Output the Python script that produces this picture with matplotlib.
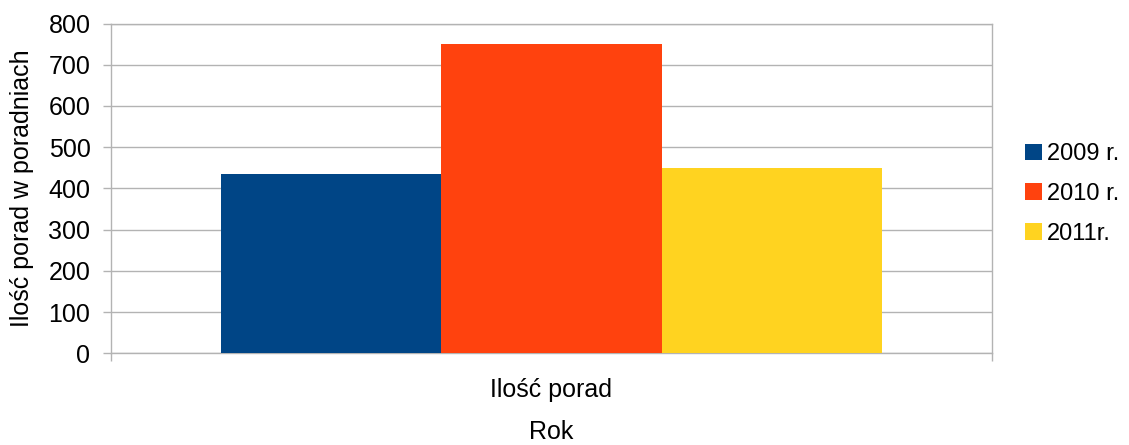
import matplotlib
matplotlib.use("Agg")
import matplotlib.pyplot as plt
from matplotlib.patches import Patch

plt.rcParams['font.family'] = ['Liberation Sans', 'DejaVu Sans']

categories = ["Ilość porad"]
series_names = ["2009 r.", "2010 r.", "2011r."]
series_values = [435, 750, 450]
colors = ["#004586", "#ff420e", "#ffd320"]
y_ticks = [0, 100, 200, 300, 400, 500, 600, 700, 800]

FS = 18

fig = plt.figure(figsize=(11.29, 4.45), dpi=100)
ax = fig.add_axes([111/1129, 1-353.3/445, (992-111)/1129, (353.3-23.5)/445])

grid_c = "#b3b3b3"
w = 0.25
offsets = [-0.25, 0.0, 0.25]
for name, v, c, off in zip(series_names, series_values, colors, offsets):
    ax.bar(0 + off, v, width=w, color=c, label=name, zorder=3)

ax.set_xlim(-0.5, 0.5)
ax.set_ylim(0, 800)
ax.set_yticks(y_ticks)
ax.set_yticklabels([str(t) for t in y_ticks], fontsize=FS)
ax.yaxis.grid(True, color=grid_c, linewidth=1.0, zorder=0)
ax.set_axisbelow(True)

ax.set_xticks([-0.5, 0.5])
ax.set_xticklabels([])
ax.tick_params(axis='x', length=5.8, color=grid_c, width=1.0)
ax.tick_params(axis='y', length=5.8, color=grid_c, width=1.0, pad=9)
ax.text(0, -0.11, categories[0], transform=ax.get_xaxis_transform(), ha='center', va='center', fontsize=FS)

for s in ax.spines.values():
    s.set_color(grid_c)
    s.set_linewidth(1.0)

ax.set_ylabel("Ilość porad w poradniach", fontsize=FS)
ax.yaxis.set_label_coords(-(111-34)/881, 0.5)
fig.text((111+992)/2/1129, 1-432/445, "Rok", ha='center', va='center', fontsize=FS)

handles = [Patch(facecolor=c, edgecolor='none') for c in colors]
leg = fig.legend(handles, series_names, loc='center left', bbox_to_anchor=(1025/1129, 1-194/445),
                 frameon=False, fontsize=17, handlelength=0.72, handleheight=0.72,
                 handletextpad=0.2, labelspacing=0.75, borderaxespad=0, borderpad=0)

fig.savefig("out.png", dpi=100, facecolor='white')
